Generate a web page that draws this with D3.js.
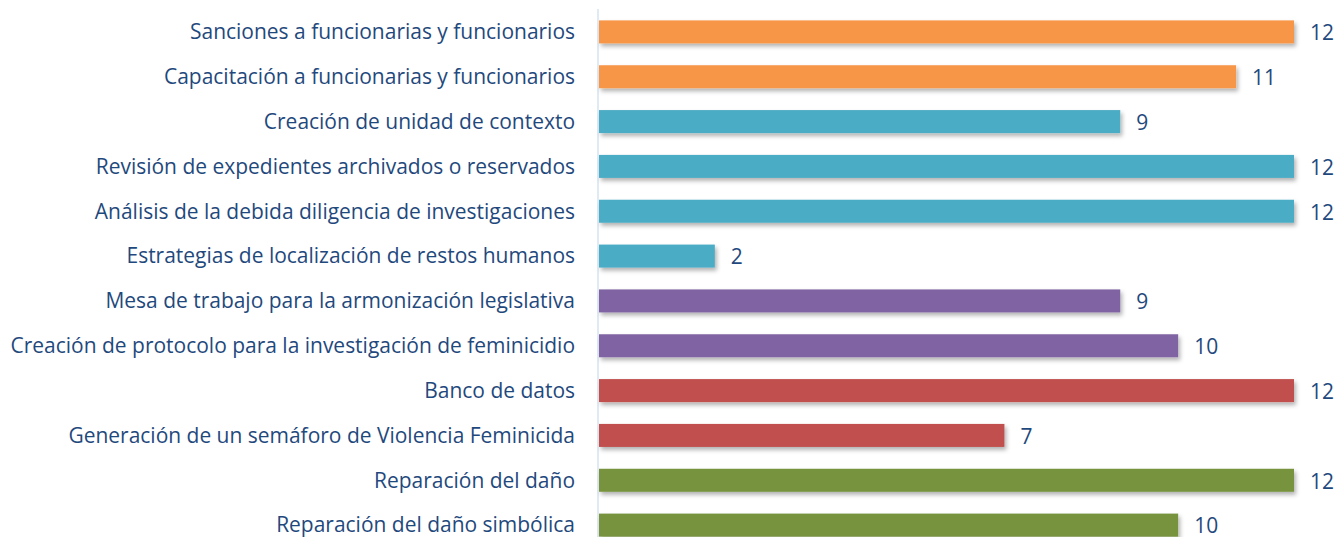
<!DOCTYPE html>
<html><head><meta charset="utf-8">
<script src="https://cdn.jsdelivr.net/npm/d3@7"></script>
<style>body{margin:0;background:#fff}svg{display:block}</style>
</head><body>
<script>
const categories = [
  "Sanciones a funcionarias y funcionarios",
  "Capacitación a funcionarias y funcionarios",
  "Creación de unidad de contexto",
  "Revisión de expedientes archivados o reservados",
  "Análisis de la debida diligencia de investigaciones",
  "Estrategias de localización de restos humanos",
  "Mesa de trabajo para la armonización legislativa",
  "Creación de protocolo para la investigación de feminicidio",
  "Banco de datos",
  "Generación de un semáforo de Violencia Feminicida",
  "Reparación del daño",
  "Reparación del daño simbólica"
];
const values = [12, 11, 9, 12, 12, 2, 9, 10, 12, 7, 12, 10];
const groups = ["a","a","b","b","b","b","c","c","d","d","e","e"];
const groupColors = {a:"#F79646", b:"#4BACC6", c:"#8064A2", d:"#C0504D", e:"#77933C"};

const W = 1335, H = 537;
const svg = d3.select("body").append("svg").attr("width", W).attr("height", H);
const defs = svg.append("defs");
const f = defs.append("filter").attr("id","sh").attr("x","-5%").attr("y","-30%").attr("width","110%").attr("height","180%");
f.append("feDropShadow").attr("dx",2).attr("dy",3).attr("stdDeviation",2).attr("flood-color","#000").attr("flood-opacity",0.3);

const x = d3.scaleLinear().domain([0, 12]).range([599, 1294]);
const y = d3.scaleBand().domain(categories).range([9.5, 547.5]).paddingInner(0.487).paddingOuter(0.243);

const font = "'Open Sans', sans-serif";
const fs = 18;
const txt = "#1F497D";

svg.append("line").attr("x1",598).attr("x2",598).attr("y1",9).attr("y2",H).attr("stroke","#D5E3F0").attr("stroke-width",1.5);

svg.selectAll("rect.bar").data(categories).join("rect")
  .attr("class","bar")
  .attr("x", x(0))
  .attr("y", d => y(d))
  .attr("width", (d,i) => x(values[i]) - x(0))
  .attr("height", y.bandwidth())
  .attr("fill", (d,i) => groupColors[groups[i]])
  .attr("filter","url(#sh)");

const labels = svg.selectAll("text.cat").data(categories).join("text")
  .attr("class","cat")
  .attr("x", 575)
  .attr("y", d => y(d) + y.bandwidth()/2)
  .attr("dy","0.35em")
  .attr("text-anchor","end")
  .attr("font-family", font).attr("font-size", fs).attr("fill", txt)
  .text(d => d);

svg.selectAll("text.val").data(categories).join("text")
  .attr("class","val")
  .attr("x", (d,i) => x(values[i]) + 16)
  .attr("y", d => y(d) + y.bandwidth()/2)
  .attr("dy","0.4em")
  .attr("font-family", font).attr("font-size", fs).attr("fill", txt)
  .text((d,i) => values[i]);

// fit label font size so the longest label spans the reference width
let maxW = 0;
labels.each(function(){ maxW = Math.max(maxW, this.getComputedTextLength()); });
const nfs = fs * 565 / maxW;
svg.selectAll("text").attr("font-size", nfs);
</script>
</body></html>
